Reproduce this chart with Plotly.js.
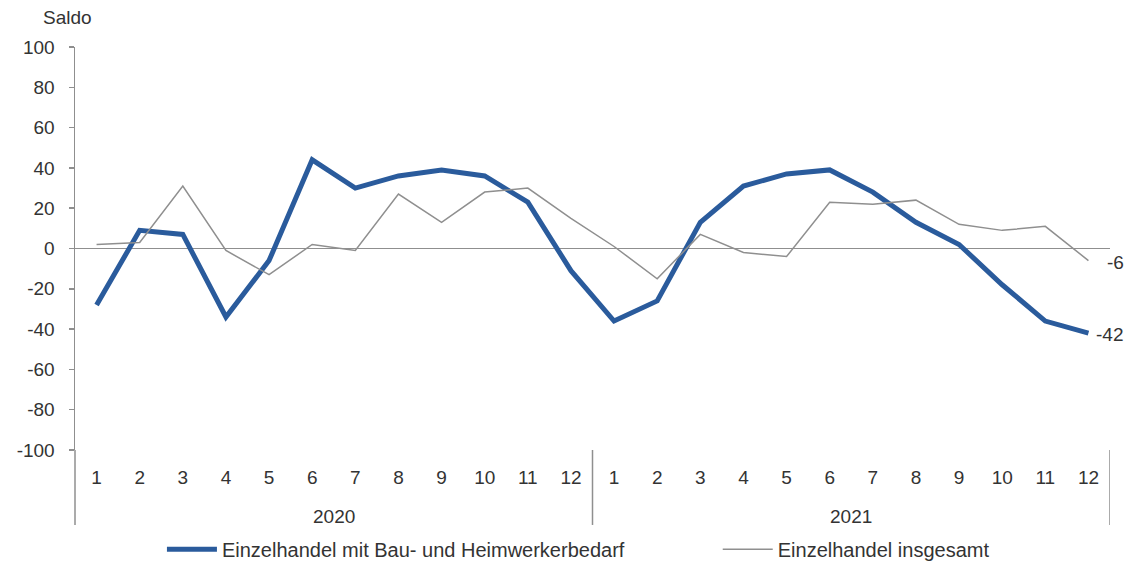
<!DOCTYPE html>
<html>
<head>
<meta charset="utf-8">
<script src="https://cdn.plot.ly/plotly-3.0.1.min.js"></script>
<style>html,body{margin:0;padding:0;background:#fff;}#chart{width:1136px;height:564px;}</style>
</head>
<body>
<div id="chart"></div>
<script>
const months = ["1","2","3","4","5","6","7","8","9","10","11","12","1","2","3","4","5","6","7","8","9","10","11","12"];
const years = ["2020", "2021"];
const seriesNames = ["Einzelhandel mit Bau- und Heimwerkerbedarf", "Einzelhandel insgesamt"];
const bauValues = [-28, 9, 7, -34, -6, 44, 30, 36, 39, 36, 23, -11, -36, -26, 13, 31, 37, 39, 28, 13, 2, -18, -36, -42];
const gesamtValues = [2, 3, 31, -1, -13, 2, -1, 27, 13, 28, 30, 15, 1, -15, 7, -2, -4, 23, 22, 24, 12, 9, 11, -6];
const yTicks = [100, 80, 60, 40, 20, 0, -20, -40, -60, -80, -100];
const yTickText = ["100", "80", "60", "40", "20", "0", "-20", "-40", "-60", "-80", "-100"];

const idx = months.map((_, i) => i);
const font = {family: "Liberation Sans, Arial, sans-serif", size: 19, color: "#333"};
const legendFont = {family: "Liberation Sans, Arial, sans-serif", size: 20, color: "#333"};
const grey = "#8f8f8f";

const traces = [
  {x: idx, y: bauValues, name: seriesNames[0], type: "scatter", mode: "lines", legend: "legend",
   line: {color: "#2a5b9c", width: 5}},
  {x: idx, y: gesamtValues, name: seriesNames[1], type: "scatter", mode: "lines", legend: "legend2",
   line: {color: grey, width: 1.5}}
];

const last = idx.length - 1;
const annotations = [
  {text: "Saldo", xref: "paper", yref: "paper", x: -0.007, y: 1.072, xanchor: "center", yanchor: "middle", showarrow: false, font: font},
  {text: years[0], xref: "x", yref: "paper", x: 5.5, y: -0.164, xanchor: "center", yanchor: "middle", showarrow: false, font: font},
  {text: years[1], xref: "x", yref: "paper", x: 17.5, y: -0.164, xanchor: "center", yanchor: "middle", showarrow: false, font: font},
  {text: String(gesamtValues[last]), xref: "x", yref: "y", x: last, y: gesamtValues[last], xanchor: "left", xshift: 17, yshift: -2, showarrow: false, font: font},
  {text: String(bauValues[last]), xref: "x", yref: "y", x: last, y: bauValues[last], xanchor: "left", xshift: 6, yshift: -1, showarrow: false, font: font}
];

const shapes = [
  {type: "line", xref: "paper", yref: "paper", x0: 0, x1: 0, y0: 0, y1: -0.186, line: {color: grey, width: 1.5}},
  {type: "line", xref: "x", yref: "paper", x0: 11.5, x1: 11.5, y0: 0, y1: -0.186, line: {color: grey, width: 1.5}},
  {type: "line", xref: "x", yref: "paper", x0: 23.5, x1: 23.5, y0: 0, y1: -0.186, line: {color: grey, width: 1.5}}
];

const layout = {
  width: 1136, height: 564,
  margin: {l: 75, r: 26, t: 47, b: 114, autoexpand: false},
  paper_bgcolor: "#fff", plot_bgcolor: "#fff",
  font: font,
  showlegend: true,
  legend: {orientation: "h", x: 0.084, xanchor: "left", y: -0.246, yanchor: "middle", font: legendFont, itemwidth: 50},
  legend2: {orientation: "h", x: 0.621, xanchor: "left", y: -0.246, yanchor: "middle", font: legendFont, itemwidth: 50},
  xaxis: {range: [-0.5, 23.5], tickvals: idx, ticktext: months, ticks: "", showline: false,
          showgrid: false, zeroline: false, ticklabelstandoff: 14, tickfont: font, fixedrange: true, automargin: false},
  yaxis: {range: [-100, 100], tickvals: yTicks, ticktext: yTickText, ticks: "outside", ticklen: 5, tickcolor: grey, tickwidth: 1.5,
          showline: true, linecolor: grey, linewidth: 1.5, showgrid: false,
          zeroline: true, zerolinecolor: grey, zerolinewidth: 1.5, ticklabelstandoff: 10, tickfont: font, fixedrange: true, automargin: false},
  annotations: annotations,
  shapes: shapes
};

Plotly.newPlot("chart", traces, layout, {displayModeBar: false, staticPlot: true});
</script>
</body>
</html>
